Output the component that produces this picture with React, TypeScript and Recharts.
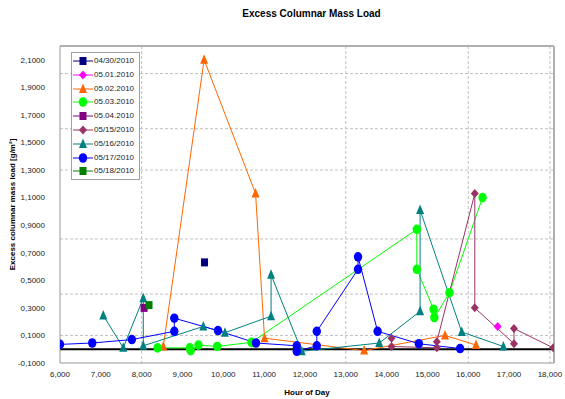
import React from 'react';
import { LineChart, Line, XAxis, YAxis, CartesianGrid, ReferenceLine } from 'recharts';

// hour of day / excess load per survey date
const hours0430 = [9.54];
const load0430 = [0.63];
const hours0501 = [16.72];
const load0501 = [0.165];
const hours0502 = [8.53, 9.53, 10.79, 11.01, 13.45, 15.43, 16.19];
const load0502 = [0.02, 2.1, 1.13, 0.08, -0.01, 0.1, 0.03];
const hours0503 = [8.39, 9.18, 9.2, 9.39, 9.85, 10.69, 14.74, 14.74, 15.15, 15.17, 15.54, 16.35];
const load0503 = [0.01, 0.01, -0.01, 0.03, 0.02, 0.05, 0.87, 0.58, 0.29, 0.23, 0.41, 1.1];
const hours0504 = [8.06];
const load0504 = [0.3];
const hours0515 = [14.12, 14.12, 15.23, 15.23, 16.16, 16.16, 17.12, 17.12, 18.08];
const load0515 = [0.08, 0.02, 0.01, 0.055, 1.13, 0.3, 0.04, 0.15, 0.01];
const hours0516 = [7.06, 7.55, 8.04, 8.04, 9.51, 10.04, 11.17, 11.17, 11.92, 13.82, 14.82, 14.82, 15.84, 16.86];
const load0516 = [0.245, 0.01, 0.37, 0.025, 0.165, 0.12, 0.24, 0.54, -0.015, 0.045, 0.275, 1.01, 0.125, 0.02];
const hours0517 = [6.0, 6.79, 7.76, 8.8, 8.8, 9.87, 10.8, 11.8, 11.8, 12.29, 12.29, 13.3, 13.3, 13.78, 14.79, 15.8];
const load0517 = [0.035, 0.045, 0.07, 0.13, 0.225, 0.135, 0.045, 0.025, -0.015, 0.025, 0.13, 0.58, 0.67, 0.13, 0.04, 0.005];
const hours0518 = [8.18];
const load0518 = [0.32];

const xTicks = [6, 7, 8, 9, 10, 11, 12, 13, 14, 15, 16, 17, 18];
const yTicks = [-0.1, 0.1, 0.3, 0.5, 0.7, 0.9, 1.1, 1.3, 1.5, 1.7, 1.9, 2.1];

const pts = (xs: number[], ys: number[]) => xs.map((x, i) => ({ x, y: ys[i] }));

type Shape = 'square' | 'diamond' | 'triangle' | 'circle';

const series = [
  { name: '04/30/2010', data: pts(hours0430, load0430), color: '#000080', shape: 'square' as Shape },
  { name: '05.01.2010', data: pts(hours0501, load0501), color: '#FF00FF', shape: 'diamond' as Shape },
  { name: '05.02.2010', data: pts(hours0502, load0502), color: '#FF6600', shape: 'triangle' as Shape },
  { name: '05.03.2010', data: pts(hours0503, load0503), color: '#00FF00', shape: 'circle' as Shape },
  { name: '05.04.2010', data: pts(hours0504, load0504), color: '#800080', shape: 'square' as Shape },
  { name: '05/15/2010', data: pts(hours0515, load0515), color: '#993366', shape: 'diamond' as Shape },
  { name: '05/16/2010', data: pts(hours0516, load0516), color: '#008080', shape: 'triangle' as Shape },
  { name: '05/17/2010', data: pts(hours0517, load0517), color: '#0000FF', shape: 'circle' as Shape },
  { name: '05/18/2010', data: pts(hours0518, load0518), color: '#008000', shape: 'square' as Shape },
];

const Marker = ({ shape, color, x, y }: { shape: Shape; color: string; x: number; y: number }) => {
  if (shape === 'square') return <rect x={x - 3.5} y={y - 4} width={7} height={8} fill={color} />;
  if (shape === 'circle') return <ellipse cx={x} cy={y} rx={4.2} ry={4.8} fill={color} />;
  if (shape === 'triangle')
    return <polygon points={`${x},${y - 5.5} ${x - 4},${y + 4} ${x + 4},${y + 4}`} fill={color} />;
  return <polygon points={`${x},${y - 4.5} ${x + 4},${y} ${x},${y + 4.5} ${x - 4},${y}`} fill={color} />;
};

const makeDot = (shape: Shape, color: string) => (props: any) => {
  const { cx, cy, index } = props;
  if (cx == null || cy == null) return <g key={index} />;
  return <Marker key={index} shape={shape} color={color} x={cx} y={cy} />;
};

const fmtY = (v: number) => v.toFixed(4).replace('.', ',');
const fmtX = (v: number) => v.toFixed(3).replace('.', ',');

const font = '"Liberation Sans", Arial, sans-serif';

const LegendBox = () => (
  <div
    style={{
      position: 'absolute',
      left: 71,
      top: 52,
      width: 67,
      height: 126,
      border: '1px solid #a0a0a0',
      background: '#fff',
      fontFamily: font,
      fontSize: 8,
      color: '#222',
    }}
  >
    {series.map((s, i) => (
      <div key={s.name} style={{ position: 'absolute', left: 1, top: 3 + i * 13.8, height: 10, display: 'flex', alignItems: 'center' }}>
        <svg width={20} height={10} style={{ display: 'block' }}>
          <line x1={0} y1={5} x2={20} y2={5} stroke={s.color} strokeWidth={1} />
          <Marker shape={s.shape} color={s.color} x={10} y={5} />
        </svg>
        <span style={{ marginLeft: 1, lineHeight: '10px' }}>{s.name}</span>
      </div>
    ))}
  </div>
);

export default function App() {
  return (
    <div style={{ position: 'absolute', left: 0, top: 0, width: 565, height: 399, background: '#fff', fontFamily: font }}>
      <div
        style={{
          position: 'absolute',
          left: 0,
          width: 565,
          top: 8,
          textAlign: 'center',
          fontWeight: 'bold',
          fontSize: 10,
          paddingLeft: 58,
          boxSizing: 'border-box',
          color: '#000',
        }}
      >
        Excess Columnar Mass Load
      </div>
      <LineChart width={565} height={399} margin={{ top: 46, right: 11, bottom: 0, left: 0 }}>
        <CartesianGrid
          stroke="#c0c0c0"
          strokeDasharray="3 2"
          horizontalValues={[0.1, 0.4, 0.7, 0.8, 1.2, 1.3, 1.6, 1.9, 2.0]}
          verticalValues={[8, 13, 15, 16, 18]}
        />
        <XAxis
          type="number"
          dataKey="x"
          domain={[6, 18.1]}
          ticks={xTicks}
          tickFormatter={fmtX}
          allowDataOverflow
          height={36}
          stroke="#999"
          tickLine={false}
          tickSize={0}
          tickMargin={8}
          tick={{ fontSize: 8, fill: '#222', fontFamily: font }}
          label={{ value: 'Hour of Day', position: 'insideBottom', offset: 4, style: { fontSize: 8, fontWeight: 'bold', fill: '#000', fontFamily: font } }}
        />
        <YAxis
          type="number"
          dataKey="y"
          domain={[-0.1, 2.2]}
          ticks={yTicks}
          tickFormatter={fmtY}
          allowDataOverflow
          width={60}
          stroke="#999"
          tickLine={false}
          tickSize={0}
          tickMargin={15}
          tick={{ fontSize: 8, fill: '#222', fontFamily: font }}
          label={{
            value: 'Excess columnar mass load [g/m²]',
            angle: -90,
            position: 'insideLeft',
            offset: 12,
            style: { fontSize: 8, fontWeight: 'bold', fill: '#000', fontFamily: font, textAnchor: 'middle' },
          }}
        />
        <ReferenceLine y={2.2} stroke="#b0b0b0" strokeWidth={2} />
        <ReferenceLine x={18.1} stroke="#b0b0b0" strokeWidth={2} />
        <ReferenceLine y={0} stroke="#000" strokeWidth={2} />
        {series.map((s) => (
          <Line
            key={s.name}
            data={s.data}
            dataKey="y"
            name={s.name}
            type="linear"
            stroke={s.color}
            strokeWidth={1}
            dot={makeDot(s.shape, s.color)}
            activeDot={false}
            isAnimationActive={false}
          />
        ))}
      </LineChart>
      <LegendBox />
    </div>
  );
}
